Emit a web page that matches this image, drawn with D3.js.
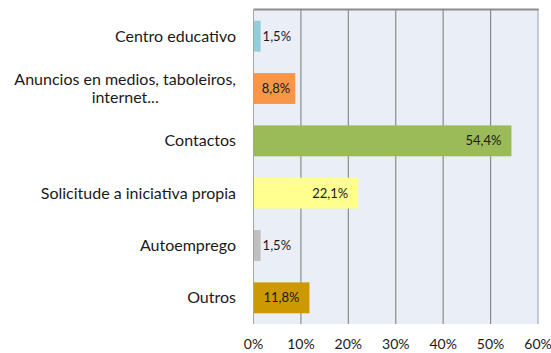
<!DOCTYPE html>
<html>
<head>
<meta charset="utf-8">
<script src="https://cdn.jsdelivr.net/npm/d3@7"></script>
<style>
  html, body { margin: 0; padding: 0; background: #fff; }
  svg { display: block; }
  text { font-family: Lato, "Open Sans", sans-serif; fill: #1a1a1a; }
</style>
</head>
<body>
<svg id="chart" width="551" height="353"></svg>
<script>
// Categories (multi-line labels split on "|")
const categories = [
  "Centro educativo",
  "Anuncios en medios, taboleiros,|internet...",
  "Contactos",
  "Solicitude a iniciativa propia",
  "Autoemprego",
  "Outros"
];
const values = [1.5, 8.8, 54.4, 22.1, 1.5, 11.8];
const barColors = ["#92cddc", "#f79646", "#9bbb59", "#ffff8f", "#bfbfbf", "#cc9900"];
const tickValues = [0, 10, 20, 30, 40, 50, 60];
const tickLabels = ["0%", "10%", "20%", "30%", "40%", "50%", "60%"];

const svg = d3.select("#chart");
const plot = { left: 253.5, right: 538, top: 10, bottom: 324 };

const x = d3.scaleLinear().domain([0, 60]).range([plot.left, plot.right]);
const y = d3.scaleBand().domain(d3.range(categories.length))
  .range([plot.top, plot.bottom]).paddingInner(0.41).paddingOuter(0.205);

const fmt = v => d3.format(".1f")(v).replace(".", ",") + "%";

// plot background
svg.append("rect")
  .attr("x", plot.left).attr("y", plot.top)
  .attr("width", plot.right - plot.left).attr("height", plot.bottom - plot.top)
  .attr("fill", "#eaeef6");

// vertical gridlines
svg.append("g").selectAll("line")
  .data(tickValues.slice(1, -1))
  .join("line")
  .attr("x1", d => x(d)).attr("x2", d => x(d))
  .attr("y1", plot.top).attr("y2", plot.bottom)
  .attr("stroke", "#8c8c8c").attr("stroke-width", 1.2);

// right border
svg.append("line")
  .attr("x1", plot.right).attr("x2", plot.right)
  .attr("y1", plot.top).attr("y2", plot.bottom)
  .attr("stroke", "#b4bcc8").attr("stroke-width", 1.5);

// top border
svg.append("line")
  .attr("x1", plot.left).attr("x2", plot.right + 0.75)
  .attr("y1", plot.top - 0.5).attr("y2", plot.top - 0.5)
  .attr("stroke", "#8c8c8c").attr("stroke-width", 2);

// bars
svg.append("g").selectAll("rect")
  .data(values)
  .join("rect")
  .attr("x", x(0))
  .attr("y", (d, i) => y(i))
  .attr("width", d => x(d) - x(0))
  .attr("height", y.bandwidth())
  .attr("fill", (d, i) => barColors[i]);

// left axis line
svg.append("line")
  .attr("x1", plot.left).attr("x2", plot.left)
  .attr("y1", plot.top).attr("y2", plot.bottom)
  .attr("stroke", "#a6a6a6").attr("stroke-width", 1);

// value labels
svg.append("g").selectAll("text")
  .data(values)
  .join("text")
  .attr("font-size", 13)
  .attr("dy", "0.35em")
  .attr("y", (d, i) => y(i) + y.bandwidth() / 2)
  .attr("x", d => {
    const w = x(d) - x(0);
    if (w < 20) return x(d) + 2;
    return x(d) - (w > 50 ? 10 : 5);
  })
  .attr("text-anchor", d => (x(d) - x(0) < 20 ? "start" : "end"))
  .text(fmt);

// category labels
const catG = svg.append("g");
categories.forEach((c, i) => {
  const lines = c.split("|");
  const cy = y(i) + y.bandwidth() / 2;
  const lh = 18.5;
  const t = catG.append("text")
    .attr("font-size", 16)
    .attr("text-anchor", lines.length > 1 ? "middle" : "end");
  lines.forEach((ln, k) => {
    t.append("tspan")
      .attr("x", 0)
      .attr("y", cy + (k - (lines.length - 1) / 2) * lh)
      .attr("dy", "0.35em")
      .text(ln);
  });
  if (lines.length > 1) {
    const bb = t.node().getBBox();
    t.selectAll("tspan").attr("x", 236 - bb.width / 2);
  } else {
    t.selectAll("tspan").attr("x", 236);
  }
});

// x axis tick labels
svg.append("g").selectAll("text")
  .data(tickValues)
  .join("text")
  .attr("font-size", 14)
  .attr("text-anchor", "middle")
  .attr("x", d => x(d))
  .attr("y", 344)
  .attr("dy", "0.35em")
  .text((d, i) => tickLabels[i]);
</script>
</body>
</html>
